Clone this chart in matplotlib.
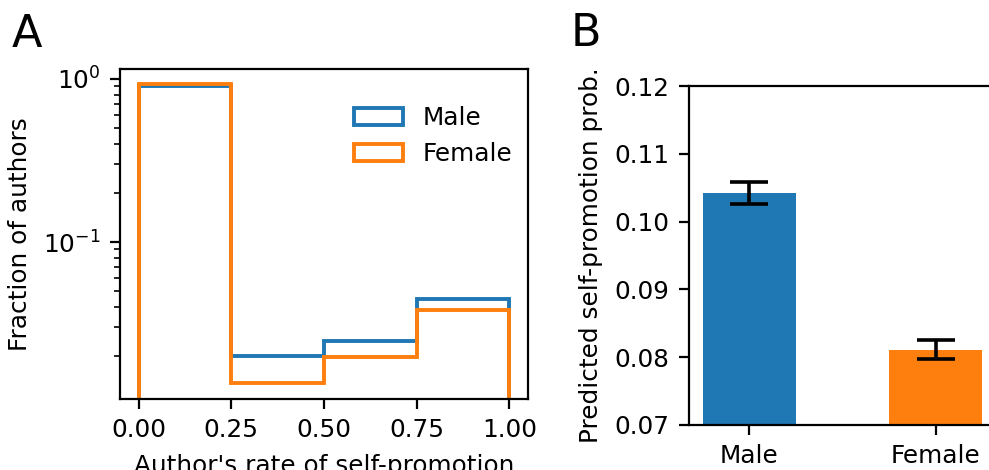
import numpy as np
import matplotlib
matplotlib.use("Agg")
import matplotlib.pyplot as plt

# panel A: fraction of authors per self-promotion-rate bin
bin_edges = [0.0, 0.25, 0.5, 0.75, 1.0]
male_frac = [0.906, 0.0200, 0.0247, 0.0445]
female_frac = [0.928, 0.0136, 0.0196, 0.0384]

# panel B: predicted self-promotion probability
groups = ["Male", "Female"]
pred_prob = [0.1042, 0.0811]
pred_err = [0.0016, 0.0014]

plt.rcParams.update({"font.size": 8.9})

fig = plt.figure(figsize=(9.89 / 2, 4.70 / 2), dpi=200)

axA = fig.add_axes([120 / 989, 1 - 399 / 470, 408 / 989, 330 / 470])
centers = [(a + b) / 2 for a, b in zip(bin_edges[:-1], bin_edges[1:])]
axA.hist(centers, bins=bin_edges, weights=male_frac, histtype="step",
         lw=1.4, color="C0", label="Male")
axA.hist(centers, bins=bin_edges, weights=female_frac, histtype="step",
         lw=1.4, color="C1", label="Female")
axA.set_yscale("log")
axA.set_ylim(0.0109, 1.15)
axA.set_xlim(-0.05, 1.05)
axA.set_xticks([0, 0.25, 0.5, 0.75, 1.0])
axA.set_xlabel("Author's rate of self-promotion")
axA.set_ylabel("Fraction of authors")
axA.legend(frameon=False, loc="upper right", bbox_to_anchor=(1.017, 0.955))

axB = fig.add_axes([689 / 989, 1 - 425 / 470, 307 / 989, 339 / 470])
axB.bar(groups, pred_prob, width=0.5, color=["C0", "C1"],
        yerr=pred_err, capsize=7, error_kw=dict(elinewidth=1.3, capthick=1.3))
axB.set_ylim(0.07, 0.12)
axB.set_xlim(-0.325, 1.325)
axB.set_yticks([0.07, 0.08, 0.09, 0.10, 0.11, 0.12])
axB.set_ylabel("Predicted self-promotion prob.")

fig.text(12 / 989, 1 - 47 / 470, "A", fontsize=16, ha="left", va="baseline")
fig.text(571 / 989, 1 - 46 / 470, "B", fontsize=16, ha="left", va="baseline")

fig.savefig("out.png", dpi=200)
